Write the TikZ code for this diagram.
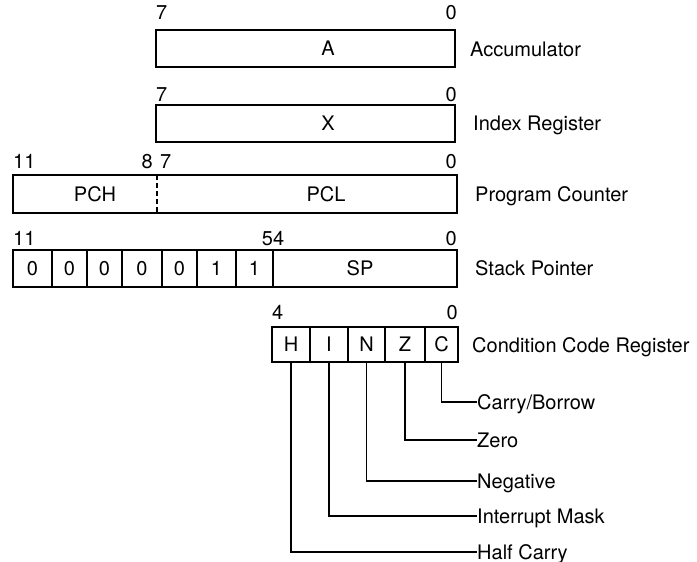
\documentclass[tikz,border=0pt]{standalone}
\usepackage{fontspec}
\setmainfont{TeX Gyre Heros}
\begin{document}
\begin{tikzpicture}[x=1pt,y=-1pt,
  cellbox/.style={draw, line width=1.8pt, inner sep=0pt, rectangle,
    font=\fontsize{20}{24}\selectfont, text height=14.4pt, text depth=0pt},
  txt/.style={inner sep=0pt, font=\fontsize{20}{24}\selectfont, text height=14.4pt, text depth=0pt},
  lead/.style={line width=1.4pt},
  divider/.style={line width=1.4pt, dash pattern=on 5pt off 3pt}]
\useasboundingbox[fill=white] (0,0) rectangle (697,562);

% Accumulator
\node[cellbox, minimum width=299pt, minimum height=37pt] (A) at (305.5,48.5) {};
\node[txt] (Atxt) at (328,48.5) {A};
\node[txt, anchor=west] (A7) at (156,12.5) {7};
\node[txt, anchor=east] (A0) at (457,12.5) {0};
\node[txt, anchor=west] (Alab) at (470,49) {Accumulator};

% Index register
\node[cellbox, minimum width=299pt, minimum height=37pt] (X) at (305.5,123.5) {};
\node[txt] (Xtxt) at (328,123.5) {X};
\node[txt, anchor=west] (X7) at (156,94.5) {7};
\node[txt, anchor=east] (X0) at (457,94.5) {0};
\node[txt, anchor=west] (Xlab) at (473,123.5) {Index Register};

% Program counter
\node[cellbox, minimum width=444pt, minimum height=38pt] (PC) at (235,194) {};
\coordinate (PCdt) at (157,175);
\coordinate (PCdb) at (157,213);
\draw[divider] (PCdt) -- (PCdb);
\node[txt] (PCH) at (95,194) {PCH};
\node[txt] (PCL) at (326,194) {PCL};
\node[txt, anchor=west] (PC11) at (13,161.5) {11};
\node[txt, anchor=east] (PC8) at (153,161.5) {8};
\node[txt, anchor=west] (PC7) at (160,161.5) {7};
\node[txt, anchor=east] (PC0) at (457,161.5) {0};
\node[txt, anchor=west] (PClab) at (475,194) {Program Counter};

% Stack pointer
\node[cellbox, minimum width=39pt, minimum height=37pt] (s1) at (32.5,268.5) {0};
\node[cellbox, minimum width=35pt, minimum height=37pt] (s2) at (69.5,268.5) {0};
\node[cellbox, minimum width=35pt, minimum height=37pt] (s3) at (104.5,268.5) {0};
\node[cellbox, minimum width=40pt, minimum height=37pt] (s4) at (142,268.5) {0};
\node[cellbox, minimum width=35pt, minimum height=37pt] (s5) at (179.5,268.5) {0};
\node[cellbox, minimum width=39pt, minimum height=37pt] (s6) at (216.5,268.5) {1};
\node[cellbox, minimum width=37pt, minimum height=37pt] (s7) at (254.5,268.5) {1};
\node[cellbox, minimum width=184pt, minimum height=37pt] (SP) at (365,268.5) {};
\node[txt] (SPtxt) at (360,268.5) {SP};
\node[txt, anchor=west] (SP11) at (13,238.5) {11};
\node[txt] (SP54) at (273,238.5) {54};
\node[txt, anchor=east] (SP0) at (457,238.5) {0};
\node[txt, anchor=west] (SPlab) at (475,268.5) {Stack Pointer};

% Condition code register
\node[cellbox, minimum width=38pt, minimum height=35pt] (H) at (291,344.5) {H};
\node[cellbox, minimum width=38pt, minimum height=35pt] (I) at (329,344.5) {I};
\node[cellbox, minimum width=37pt, minimum height=35pt] (N) at (366.5,344.5) {N};
\node[cellbox, minimum width=40pt, minimum height=35pt] (Z) at (405,344.5) {Z};
\node[cellbox, minimum width=33pt, minimum height=35pt] (C) at (441.5,344.5) {C};
\node[txt, anchor=west] (CC4) at (272,312.5) {4};
\node[txt, anchor=east] (CC0) at (458,312.5) {0};
\node[txt, anchor=west] (CClab) at (472,345) {Condition Code Register};

\node[txt, anchor=west] (lC) at (477,402) {Carry/Borrow};
\node[txt, anchor=west] (lZ) at (477,440) {Zero};
\node[txt, anchor=west] (lN) at (477,481) {Negative};
\node[txt, anchor=west] (lI) at (477,516) {Interrupt Mask};
\node[txt, anchor=west] (lH) at (477,552) {Half Carry};

\draw[lead] (C.south) |- (lC.west);
\draw[lead] (Z.south) |- (lZ.west);
\draw[lead] (N.south) |- (lN.west);
\draw[lead] (I.south) |- (lI.west);
\draw[lead] (H.south) |- (lH.west);
\end{tikzpicture}
\end{document}
